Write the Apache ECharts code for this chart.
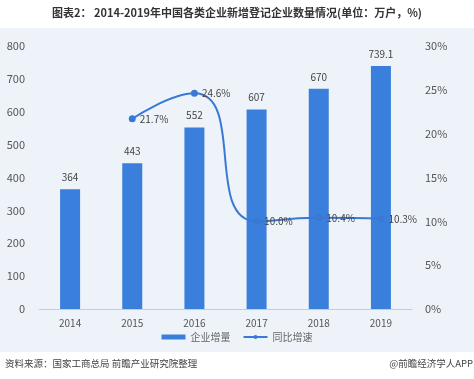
<!DOCTYPE html>
<html><head><meta charset="utf-8">
<script src="https://cdn.jsdelivr.net/npm/echarts@6/dist/echarts.min.js"></script>
<style>html,body{margin:0;padding:0;background:#fff}#c{width:474px;height:379px}</style>
</head><body><div id="c"></div>
<script>
const categories = ['2014','2015','2016','2017','2018','2019'];
const barValues = [364, 443, 552, 607, 670, 739.1];
const growthValues = [null, 21.7, 24.6, 10.0, 10.4, 10.3];
const leftTicks = [0, 100, 200, 300, 400, 500, 600, 700, 800];
const rightTicks = ['0%','5%','10%','15%','20%','25%','30%'];

const chart = echarts.init(document.getElementById('c'));
const font = '"Microsoft YaHei","Noto Sans CJK SC",sans-serif';
chart.setOption({
  animation: false,
  textStyle: {fontFamily: font},
  graphic: [
    {type:'rect', left:0, top:28, shape:{width:474, height:324}, style:{fill:'#eef3fa'}, z:-10},
    {type:'text', left:'center', top:7, style:{text:'图表2： 2014-2019年中国各类企业新增登记企业数量情况(单位：万户，%)', font:'bold 11px ' + font, fill:'#333'}},
    {type:'text', left:5, top:359, style:{text:'资料来源：国家工商总局 前瞻产业研究院整理', font:'9.5px ' + font, fill:'#444'}},
    {type:'text', right:1, top:359, style:{text:'@前瞻经济学人APP', font:'9.5px ' + font, fill:'#444'}}
  ],
  legend: {
    bottom: 32, left: 'center', itemWidth: 24, itemHeight: 5, itemGap: 12,
    textStyle: {color:'#666', fontSize: 10},
    data: [{name:'企业增量', icon:'rect'}, {name:'同比增速'}]
  },
  grid: {left: 39, right: 62, top: 46, height: 263},
  xAxis: {
    type: 'category', data: categories,
    axisLine: {lineStyle:{color:'#ccc'}}, axisTick:{show:false},
    axisLabel: {color:'#555', fontSize: 10, margin: 9}
  },
  yAxis: [
    {type:'value', min:0, max:800, interval:100, position:'left',
     axisLabel:{color:'#555', fontSize:11, margin:14}, splitLine:{show:false},
     axisLine:{show:false}, axisTick:{show:false}},
    {type:'value', min:0, max:30, interval:5, position:'right',
     axisLabel:{color:'#555', fontSize:11, margin:13, formatter:function(v){return rightTicks[v/5];}},
     splitLine:{show:false}, axisLine:{show:false}, axisTick:{show:false}}
  ],
  series: [
    {name:'企业增量', type:'bar', data: barValues, barWidth: 20,
     itemStyle:{color:'#3a7fdb'},
     label:{show:true, position:'top', color:'#444', fontSize:10, distance:7}},
    {name:'同比增速', type:'line', yAxisIndex:1, data: growthValues, smooth:0.6,
     symbol:'circle', symbolSize:7, connectNulls:false,
     lineStyle:{color:'#3a78d6', width:2}, itemStyle:{color:'#3a78d6'},
     label:{show:true, position:'right', color:'#444', fontSize:10, distance:4, formatter: p => p.value.toFixed(1) + '%'}}
  ]
});
</script></body></html>
